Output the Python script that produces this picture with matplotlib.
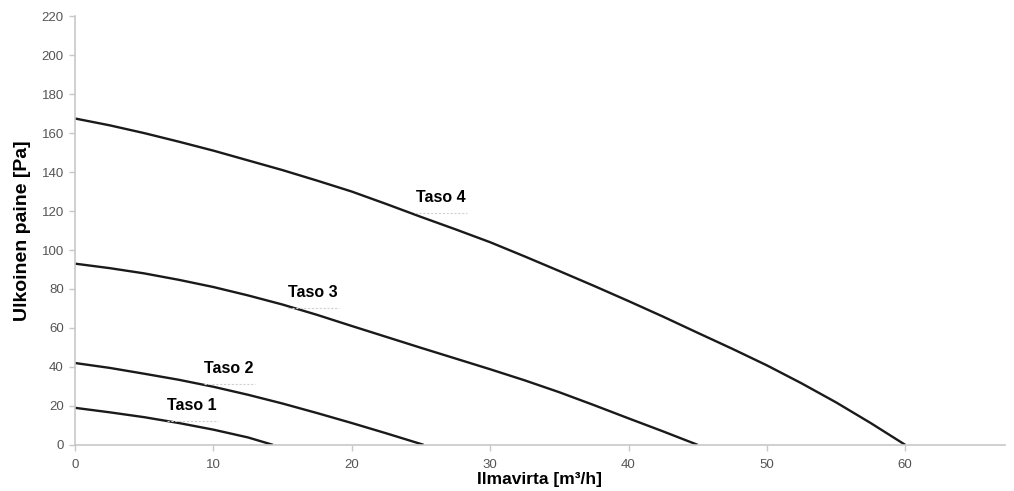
import matplotlib
matplotlib.use("Agg")
import matplotlib.pyplot as plt

plt.rcParams['font.family'] = ['Liberation Sans', 'DejaVu Sans']

# Data
taso1_x = [0, 2.5, 5, 7.5, 10, 12.5, 14.3]
taso1_y = [19, 16.7, 14.2, 11.2, 7.8, 3.8, 0]
taso2_x = [0, 2.5, 5, 7.5, 10, 12.5, 15, 17.5, 20, 22.5, 25.2]
taso2_y = [42, 39.5, 36.5, 33.4, 29.8, 25.7, 21.2, 16.3, 11.2, 5.9, 0]
taso3_x = [0, 2.5, 5, 7.5, 10, 12.5, 15, 17.5, 20, 22.5, 25, 27.5, 30,
           32.5, 35, 37.5, 40, 42.5, 45]
taso3_y = [93, 90.7, 88, 84.7, 81, 76.7, 72, 66.7, 61, 55.4, 49.8, 44.3,
           38.8, 33.1, 27, 20.4, 13.6, 6.9, 0]
taso4_x = [0, 2.5, 5, 7.5, 10, 12.5, 15, 17.5, 20, 22.5, 25, 27.5, 30,
           32.5, 35, 37.5, 40, 42.5, 45, 47.5, 50, 52.5, 55, 57.5, 60]
taso4_y = [167.5, 164, 160, 155.6, 151, 146, 141, 135.6, 130, 123.6, 117,
           110.6, 104, 96.7, 89.2, 81.6, 73.8, 65.8, 57.5, 49.3, 40.8, 31.6,
           21.8, 11.2, 0]

labels = ["Taso 1", "Taso 2", "Taso 3", "Taso 4"]
label_x = [8.45, 11.1, 17.2, 26.4]
label_y = [20, 39.3, 78, 127]

x_ticks = [0, 10, 20, 30, 40, 50, 60]
y_ticks = list(range(0, 221, 20))

series = [(taso1_x, taso1_y), (taso2_x, taso2_y),
          (taso3_x, taso3_y), (taso4_x, taso4_y)]

fig = plt.figure(figsize=(10.14, 4.91), dpi=100)
ax = fig.add_axes([0.074, 0.094, 0.917, 0.873])

for (xs, ys), name, lx, ly in zip(series, labels, label_x, label_y):
    ax.plot(xs, ys, color="#1a1a1a", lw=1.7, solid_capstyle="butt",
            solid_joinstyle="round")
    ax.text(lx, ly, name, ha="center", va="center", fontsize=11.5,
            fontweight="bold", color="black")
    ax.plot([lx - 1.8, lx + 1.9], [ly - 8, ly - 8], color="#d0d0d0",
            lw=0.8, ls=(0, (2, 1.5)))

ax.set_xlim(0, 67.2)
ax.set_ylim(0, 220)
ax.set_xticks(x_ticks)
ax.set_yticks(y_ticks)

for s in ["top", "right"]:
    ax.spines[s].set_visible(False)
for s in ["left", "bottom"]:
    ax.spines[s].set_color("#c8c8c8")
    ax.spines[s].set_linewidth(1.2)

ax.tick_params(axis="both", colors="#c8c8c8", length=4, width=1,
               labelcolor="#555555", labelsize=9.5)
ax.tick_params(axis="x", pad=6)
ax.tick_params(axis="y", pad=4)

ax.set_xlabel("Ilmavirta [m³/h]", fontsize=12.5, fontweight="bold",
              color="black", labelpad=1)
ax.set_ylabel("Ulkoinen paine [Pa]", fontsize=14, fontweight="bold",
              color="black", labelpad=8)

fig.savefig("out.png", dpi=100)
